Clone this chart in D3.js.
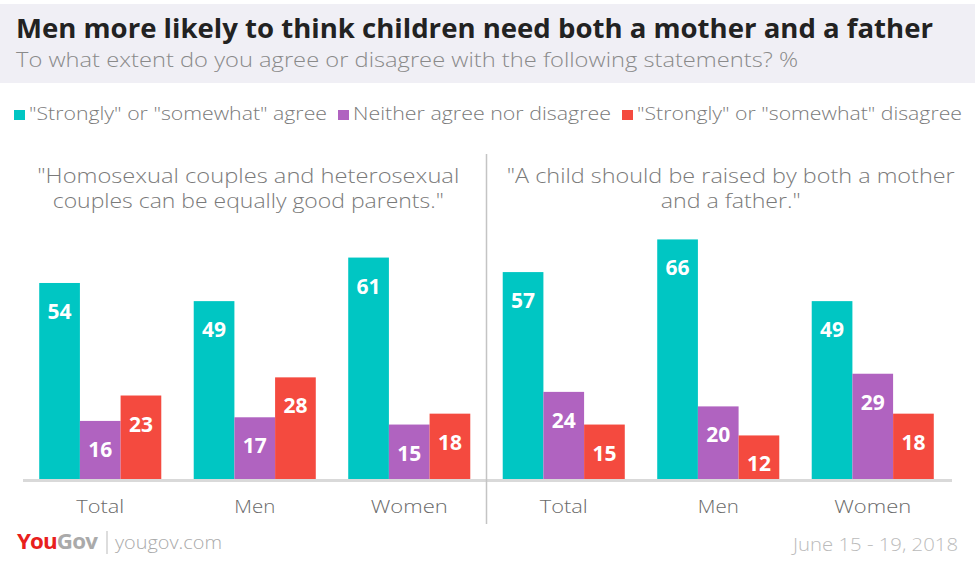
<!DOCTYPE html>
<html><head><meta charset="utf-8">
<script src="https://cdn.jsdelivr.net/npm/d3@7"></script>
<style>body{margin:0;background:#fff;}svg{display:block;font-family:"Open Sans",Lato,sans-serif;}</style>
</head><body><svg id="c" width="975" height="561"></svg>
<script>
const panels = ['"Homosexual couples and heterosexual|couples can be equally good parents."', '"A child should be raised by both a mother|and a father."'];
const groups = ["Total", "Men", "Women"];
const seriesNames = ['"Strongly" or "somewhat" agree', 'Neither agree nor disagree', '"Strongly" or "somewhat" disagree'];
const colors = ["#00c6c3", "#b063c0", "#f44a3f"];
const agree = [54, 49, 61, 57, 66, 49];
const neither = [16, 17, 15, 24, 20, 29];
const disagree = [23, 28, 18, 15, 12, 18];
const series = [agree, neither, disagree];

const svg = d3.select("#c");
const W = 975;
// fit a text element's width (measured target extents from the design)
function fit(t, w) { t.attr("textLength", w).attr("lengthAdjust", "spacingAndGlyphs"); return t; }

svg.append("rect").attr("x", 0).attr("y", 4).attr("width", W).attr("height", 79).attr("fill", "#f0eff5");
fit(svg.append("text").attr("x", 16).attr("y", 38).attr("font-size", 27).attr("font-weight", 700).attr("fill", "#222")
  .text("Men more likely to think children need both a mother and a father"), 917);
fit(svg.append("text").attr("x", 16).attr("y", 67).attr("font-size", 21).attr("font-weight", 300).attr("fill", "#8a8a8a")
  .text("To what extent do you agree or disagree with the following statements? %"), 782);

// legend
const legendW = [298, 258, 325];
const lg = svg.append("g").attr("transform", "translate(14,120)");
let lx = 0;
seriesNames.forEach((n, i) => {
  const g = lg.append("g").attr("transform", `translate(${lx},0)`);
  g.append("rect").attr("x", 0).attr("y", -10).attr("width", 11).attr("height", 10).attr("fill", colors[i]);
  fit(g.append("text").attr("x", 15).attr("y", 0).attr("font-size", 18.5).attr("font-weight", 300).attr("fill", "#7a7a7a").text(n), legendW[i]);
  lx += 15 + legendW[i] + 11;
});

// scales
const keys = panels.flatMap((p, pi) => groups.map(g => pi + "|" + g));
const x0 = d3.scaleBand().domain(keys).range([23, 950]).paddingInner(0.21).paddingOuter(0.105);
const x1 = d3.scaleBand().domain([0, 1, 2]).range([0, x0.bandwidth()]);
const baseY = 479;
const y = d3.scaleLinear().domain([0, 100]).range([baseY, baseY - 363]);

const catW = {Total: 48, Men: 41, Women: 77};
keys.forEach((k, ki) => {
  const g = svg.append("g").attr("transform", `translate(${x0(k)},0)`);
  series.forEach((s, si) => {
    const v = s[ki];
    g.append("rect").attr("x", x1(si)).attr("y", y(v)).attr("width", x1.bandwidth()).attr("height", baseY - y(v)).attr("fill", colors[si]);
    g.append("text").attr("x", x1(si) + x1.bandwidth() / 2).attr("y", y(v) + 36).attr("text-anchor", "middle")
      .attr("font-size", 21).attr("font-weight", 700).attr("fill", "#fff").text(v);
  });
  const gname = groups[ki % 3];
  const t = svg.append("text").attr("x", x0(k) + x0.bandwidth() / 2 - catW[gname] / 2).attr("y", 513)
    .attr("font-size", 19).attr("font-weight", 300).attr("fill", "#6a6a6a").text(gname);
  fit(t, catW[gname]);
});

// axis line
svg.append("line").attr("x1", 23).attr("x2", 952).attr("y1", baseY + 1.5).attr("y2", baseY + 1.5).attr("stroke", "#d9d9d9").attr("stroke-width", 3);
// divider
const divX = (x0(keys[2]) + x0.bandwidth() + x0(keys[3])) / 2;
svg.append("line").attr("x1", divX).attr("x2", divX).attr("y1", 154).attr("y2", 524).attr("stroke", "#c4c4c4").attr("stroke-width", 1.5);

// panel titles, centred in each panel half
const titleW = [[422, 391], [448, 140]];
const panelEdges = [[10, divX], [divX, W]];
panels.forEach((p, pi) => {
  const cx = (panelEdges[pi][0] + panelEdges[pi][1]) / 2;
  p.split("|").forEach((line, li) => {
    const w = titleW[pi][li];
    fit(svg.append("text").attr("x", cx - w / 2).attr("y", 183 + li * 25)
      .attr("font-size", 20).attr("font-weight", 300).attr("fill", "#7a7a7a").text(line), w);
  });
});

// footer
const f = svg.append("text").attr("x", 17).attr("y", 549).attr("font-size", 21).attr("font-weight", 700).attr("letter-spacing", -0.8);
f.append("tspan").attr("fill", "#e8201c").text("You");
f.append("tspan").attr("fill", "#aaa").text("Gov");
fit(f, 80);
svg.append("line").attr("x1", 107).attr("x2", 107).attr("y1", 531).attr("y2", 554).attr("stroke", "#bbb").attr("stroke-width", 1);
fit(svg.append("text").attr("x", 115).attr("y", 549).attr("font-size", 19).attr("font-weight", 300).attr("fill", "#aaa").text("yougov.com"), 107);
fit(svg.append("text").attr("x", 793).attr("y", 551).attr("font-size", 18).attr("font-weight", 300).attr("fill", "#bbb").text("June 15 - 19, 2018"), 165);
</script></body></html>
